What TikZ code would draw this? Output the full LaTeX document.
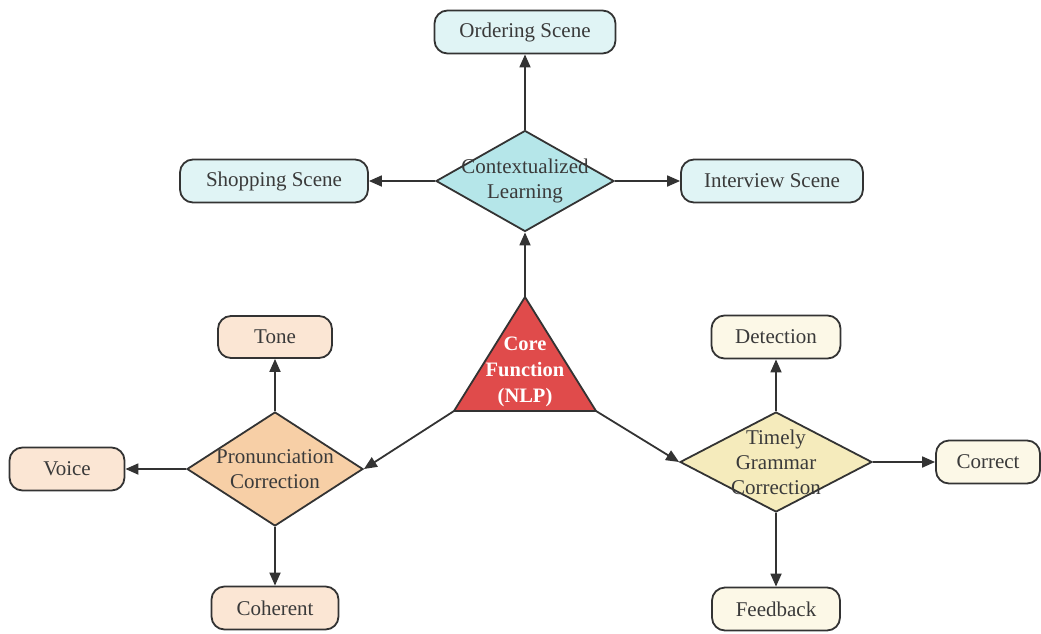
\documentclass[tikz,border=0pt]{standalone}
\usepackage{fontspec}
\setmainfont{Liberation Serif}[Ligatures=TeX]
\usetikzlibrary{shapes.geometric,arrows.meta}
\definecolor{lineC}{HTML}{333333}
\definecolor{txtC}{HTML}{3A3A3A}
\definecolor{cyanD}{HTML}{B5E6E9}
\definecolor{cyanB}{HTML}{E0F4F5}
\definecolor{redT}{HTML}{E04B4B}
\definecolor{orD}{HTML}{F7CFA6}
\definecolor{orB}{HTML}{FBE6D4}
\definecolor{yeD}{HTML}{F5EBBC}
\definecolor{yeB}{HTML}{FCF8E7}
\newcommand{\zl}[1]{\makebox[0pt]{#1}}
\tikzset{
  base/.style={draw=lineC, line width=1.8pt, text=txtC, font=\rmfamily\fontsize{21}{25}\selectfont, align=center, inner sep=0pt},
  pill/.style={base, rounded corners=13pt, minimum height=43pt},
  dia/.style={base, diamond, aspect=1.7},
  conn/.style={draw=lineC, line width=1.8pt, -{Triangle[length=13pt,width=11pt]}}
}
\begin{document}
\begin{tikzpicture}[x=1pt,y=-1pt]
\useasboundingbox (0,0) rectangle (1041,633);
% top branch
\node[pill, fill=cyanB, minimum width=181pt] (order) at (525,32) {Ordering Scene};
\node[dia, fill=cyanD, minimum width=178pt, minimum height=101pt] (ctx) at (525,181) {\zl{Contextualized}\\\zl{Learning}};
\node[pill, fill=cyanB, minimum width=188pt] (shop) at (274,181) {Shopping Scene};
\node[pill, fill=cyanB, minimum width=182pt] (inter) at (772,181) {Interview Scene};
% core triangle
\coordinate (capex) at (525,297);
\coordinate (cleft) at (454,411);
\coordinate (cright) at (596,411);
\fill[redT] (capex) -- (cleft) -- (cright) -- cycle;
\draw[lineC, line width=1.8pt, line join=miter] (capex) -- (cleft) -- (cright) -- cycle;
\node[font=\rmfamily\fontsize{20.5}{26}\selectfont\bfseries, text=white, align=center] (core) at (525,372) {Core\\Function\\(NLP)};
% left branch
\node[pill, fill=orB, minimum width=114pt, minimum height=42pt] (tone) at (275,337) {Tone};
\node[dia, fill=orD, minimum width=176pt, minimum height=114pt] (pron) at (275,469) {\zl{Pronunciation}\\\zl{Correction}};
\node[pill, fill=orB, minimum width=115pt] (voice) at (67,469) {Voice};
\node[pill, fill=orB, minimum width=127pt] (coh) at (275,608) {Coherent};
% right branch
\node[pill, fill=yeB, minimum width=129pt] (det) at (776,337) {Detection};
\node[dia, fill=yeD, minimum width=192pt, minimum height=100pt] (gram) at (776,462) {\zl{Timely}\\\zl{Grammar}\\\zl{Correction}};
\node[pill, fill=yeB, minimum width=104pt] (corr) at (988,462) {Correct};
\node[pill, fill=yeB, minimum width=128pt] (feed) at (776,609) {Feedback};
% connectors
\draw[conn] (ctx.north) -- (order.south);
\draw[conn] (ctx.west) -- (shop.east);
\draw[conn] (ctx.east) -- (inter.west);
\draw[conn] (capex) -- (ctx.south);
\draw[conn] (cleft) -- (pron.east);
\draw[conn] (cright) -- (gram.west);
\draw[conn] (pron.north) -- (tone.south);
\draw[conn] (pron.west) -- (voice.east);
\draw[conn] (pron.south) -- (coh.north);
\draw[conn] (gram.north) -- (det.south);
\draw[conn] (gram.east) -- (corr.west);
\draw[conn] (gram.south) -- (feed.north);
\end{tikzpicture}
\end{document}
